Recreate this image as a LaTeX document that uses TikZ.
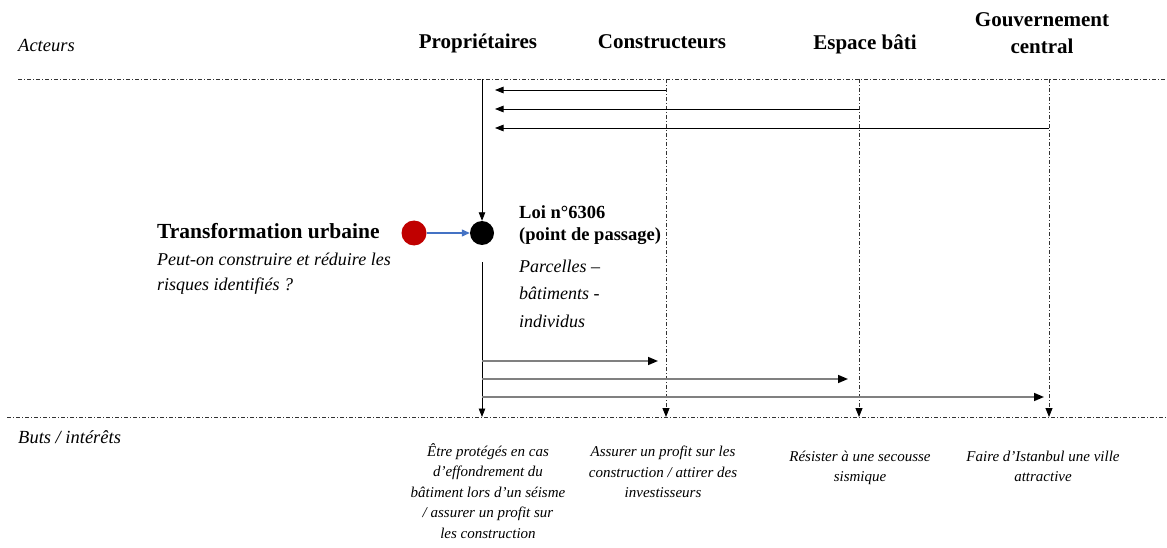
\documentclass[tikz,border=0pt]{standalone}
\usepackage{fontspec}
\setmainfont{Liberation Serif}
\usetikzlibrary{arrows.meta}
\definecolor{redc}{HTML}{C00000}
\definecolor{bluec}{HTML}{4472C4}
\definecolor{grayc}{HTML}{808080}
\begin{document}
\begin{tikzpicture}[x=1pt,y=-1pt,
  sepline/.style={draw=black!80, line width=0.9pt, dash pattern=on 4pt off 2pt on 1pt off 2pt},
  colline/.style={sepline, -{Triangle[length=9pt,width=7pt,color=black]}},
  hdr/.style={font=\fontsize{21}{27}\selectfont\bfseries, align=center, inner sep=0pt},
  lbl/.style={font=\fontsize{18.5}{24}\selectfont\itshape, inner sep=0pt, anchor=base west},
  goal/.style={font=\fontsize{15}{20.5}\selectfont\itshape, align=center, inner sep=0pt, anchor=north},
  arr/.style={draw=black, line width=0.85pt, -{Triangle[length=8.5pt,width=6.5pt]}},
  garr/.style={draw=grayc, line width=1.6pt, -{Triangle[length=10pt,width=8pt,color=black]}},
  barr/.style={draw=bluec, line width=1.2pt, -{Triangle[length=8pt,width=7pt]}},
  dot/.style={circle, inner sep=0pt, minimum size=25pt}
]
\useasboundingbox (0,0) rectangle (1167,548);

% separators
\coordinate (tl) at (18,79);  \coordinate (tr) at (1167,79);
\coordinate (bl) at (7,417);  \coordinate (br) at (1167,417);
\draw[sepline] (tl) -- (tr);
\draw[sepline] (bl) -- (br);

% column coordinates
\coordinate (Pt) at (482,79);  \coordinate (Pb) at (482,417);
\coordinate (Ct) at (666,79);  \coordinate (Cb) at (666,417);
\coordinate (Et) at (859,79);  \coordinate (Eb) at (859,417);
\coordinate (Gt) at (1049,79); \coordinate (Gb) at (1049,417);

% labels
\node[lbl] (acteurs) at (18,52) {Acteurs};
\node[lbl] (buts) at (18,443) {Buts / intérêts};
\node[hdr, anchor=base] (prop) at (478,49) {Propriétaires};
\node[hdr, anchor=base] (cons) at (662,49) {Constructeurs};
\node[hdr, anchor=base] (esp) at (865,50) {Espace bâti};
\node[hdr, anchor=north] (gouv) at (1042,12.5) {Gouvernement\\central};

% dots
\node[dot, fill=redc] (red) at (414,233) {};
\node[dot, fill=black, minimum size=24pt] (loi) at (482,233) {};
\draw[barr] (red) -- (loi);

% left text
\node[font=\fontsize{21.5}{26}\selectfont\bfseries, inner sep=0pt, anchor=base west] (tu) at (157,238) {Transformation urbaine};
\node[font=\fontsize{18}{25}\selectfont\itshape, inner sep=0pt, align=left, anchor=north west] (q) at (157,252.5) {Peut-on construire et réduire les\\risques identifiés ?};

% loi text
\node[font=\fontsize{18.5}{22}\selectfont\bfseries, inner sep=0pt, align=left, anchor=north west] (loitxt) at (519,205.5) {Loi n°6306\\(point de passage)};
\node[font=\fontsize{18}{27.5}\selectfont\itshape, inner sep=0pt, align=left, anchor=north west] (parc) at (519,259.7) {Parcelles –\\bâtiments -\\individus};

% Proprietaires vertical
\draw[arr] (Pt) -- (loi.north);
\coordinate (Ps) at (482,262);
\draw[arr] (Ps) -- (Pb);

% other columns
\draw[colline] (Ct) -- (Cb);
\draw[colline] (Et) -- (Eb);
\draw[colline] (Gt) -- (Gb);

% top arrows to proprietaires
\coordinate (c1) at (666,90);  \coordinate (p1) at (495,90);
\coordinate (c2) at (859,109); \coordinate (p2) at (495,109);
\coordinate (c3) at (1049,128);\coordinate (p3) at (495,128);
\draw[arr] (c1) -- (p1);
\draw[arr] (c2) -- (p2);
\draw[arr] (c3) -- (p3);

% bottom arrows from proprietaires
\coordinate (q1) at (482,361); \coordinate (d1) at (658,361);
\coordinate (q2) at (482,379); \coordinate (d2) at (848,379);
\coordinate (q3) at (482,397); \coordinate (d3) at (1044,397);
\draw[garr] (q1) -- (d1);
\draw[garr] (q2) -- (d2);
\draw[garr] (q3) -- (d3);

% goals
\node[goal] (g1) at (488,443) {Être protégés en cas\\d’effondrement du\\bâtiment lors d’un séisme\\/ assurer un profit sur\\les construction};
\node[goal] (g2) at (663,445.8) {Assurer un profit sur les\\construction / attirer des\\investisseurs};
\node[goal] (g3) at (860,450.6) {Résister à une secousse\\sismique};
\node[goal] (g4) at (1043,450.8) {Faire d’Istanbul une ville\\attractive};
\end{tikzpicture}
\end{document}
